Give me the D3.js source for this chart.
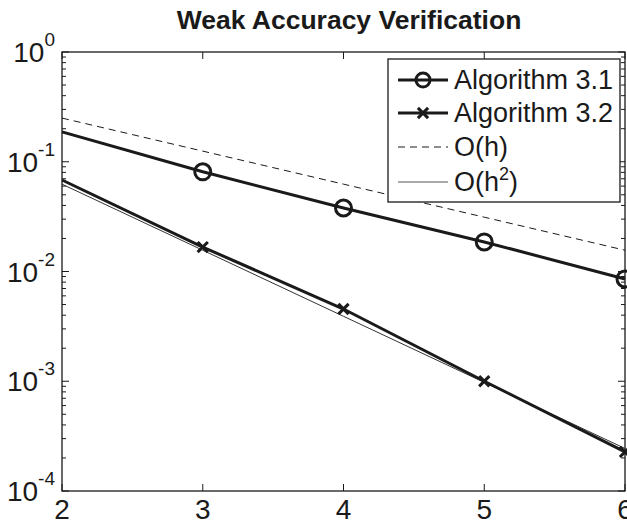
<!DOCTYPE html>
<html>
<head>
<meta charset="utf-8">
<script src="https://cdn.jsdelivr.net/npm/d3@7"></script>
<style>
  body { margin: 0; background: #fff; }
  text { font-family: "Liberation Sans", Arial, sans-serif; fill: #1a1a1a; }
</style>
</head>
<body>
<div id="chart"></div>
<script>
// Data
const xValues = [2, 3, 4, 5, 6];
const alg31 = [0.187, 0.081, 0.0379, 0.0186, 0.00855];
const alg32 = [0.0682, 0.0167, 0.00455, 0.00100, 0.000227];
const orderH = [0.25, 0.125, 0.0625, 0.03125, 0.015625];
const orderH2 = [0.0625, 0.015625, 0.00390625, 0.0009765625, 0.000244140625];
const markerX = [3, 4, 5, 6]; // no marker drawn at the left edge in the reference
const xTicks = [2, 3, 4, 5, 6];
const yExponents = [0, -1, -2, -3, -4];
const legendLabels = ["Algorithm 3.1", "Algorithm 3.2", "O(h)", "O(h2)"];

const W = 627, H = 525;
const margin = { top: 52, right: 2, bottom: 34, left: 62 };
const width = W - margin.left - margin.right;
const height = H - margin.top - margin.bottom;
const ink = "#1a1a1a";

const svg = d3.select("#chart")
    .append("svg")
    .attr("width", W)
    .attr("height", H);

const g = svg.append("g")
    .attr("transform", `translate(${margin.left},${margin.top})`);

const x = d3.scaleLinear().domain([2, 6]).range([0, width]);
const y = d3.scaleLog().domain([1e-4, 1]).range([height, 0]);

// Title
svg.append("text")
    .attr("x", 349)
    .attr("y", 29)
    .attr("text-anchor", "middle")
    .attr("font-size", 26.5)
    .attr("font-weight", "bold")
    .text("Weak Accuracy Verification");

// Minor/major y ticks (inward, both sides)
const minorVals = [];
for (let e = -4; e < 0; e++) {
    for (let m = 2; m <= 9; m++) minorVals.push(m * Math.pow(10, e));
}
const tickG = g.append("g").attr("stroke", ink).attr("stroke-width", 1);
minorVals.forEach(v => {
    tickG.append("line").attr("x1", 0).attr("x2", 4).attr("y1", y(v)).attr("y2", y(v));
    tickG.append("line").attr("x1", width).attr("x2", width - 4).attr("y1", y(v)).attr("y2", y(v));
});
yExponents.forEach(e => {
    const v = Math.pow(10, e);
    tickG.append("line").attr("x1", 0).attr("x2", 7).attr("y1", y(v)).attr("y2", y(v));
    tickG.append("line").attr("x1", width).attr("x2", width - 7).attr("y1", y(v)).attr("y2", y(v));
});
xTicks.forEach(t => {
    tickG.append("line").attr("x1", x(t)).attr("x2", x(t)).attr("y1", height).attr("y2", height - 7);
    tickG.append("line").attr("x1", x(t)).attr("x2", x(t)).attr("y1", 0).attr("y2", 7);
});

// Y tick labels 10^e
yExponents.forEach(e => {
    const t = g.append("text")
        .attr("x", -7)
        .attr("y", y(Math.pow(10, e)) + 10)
        .attr("text-anchor", "end")
        .attr("font-size", 28);
    t.append("tspan").text("10");
    t.append("tspan").attr("font-size", 19).attr("dy", -16).text(String(e));
});

// X tick labels
xTicks.forEach(t => {
    g.append("text")
        .attr("x", x(t))
        .attr("y", height + 28)
        .attr("text-anchor", "middle")
        .attr("font-size", 28)
        .text(t);
});

// Lines
const line = d3.line()
    .x((d, i) => x(xValues[i]))
    .y(d => y(d));

g.append("path").datum(orderH)
    .attr("d", line).attr("fill", "none")
    .attr("stroke", ink).attr("stroke-width", 1).attr("stroke-dasharray", "7,5");
g.append("path").datum(orderH2)
    .attr("d", line).attr("fill", "none")
    .attr("stroke", "#333").attr("stroke-width", 1);
g.append("path").datum(alg31)
    .attr("d", line).attr("fill", "none")
    .attr("stroke", ink).attr("stroke-width", 3);
g.append("path").datum(alg32)
    .attr("d", line).attr("fill", "none")
    .attr("stroke", ink).attr("stroke-width", 3);

// Markers
const pts31 = xValues.map((v, i) => [v, alg31[i]]).filter(p => markerX.includes(p[0]));
const pts32 = xValues.map((v, i) => [v, alg32[i]]).filter(p => markerX.includes(p[0]));

g.selectAll(".circ").data(pts31).enter().append("circle")
    .attr("cx", d => x(d[0]))
    .attr("cy", d => y(d[1]))
    .attr("r", 8)
    .attr("fill", "none")
    .attr("stroke", ink)
    .attr("stroke-width", 3);

const cross = d3.symbol().type(d3.symbolX).size(70);
g.selectAll(".cross").data(pts32).enter().append("path")
    .attr("transform", d => `translate(${x(d[0])},${y(d[1])})`)
    .attr("d", cross)
    .attr("fill", "none")
    .attr("stroke", ink)
    .attr("stroke-width", 3);

// Axes box
g.append("rect")
    .attr("x", 0).attr("y", 0)
    .attr("width", width).attr("height", height)
    .attr("fill", "none").attr("stroke", ink).attr("stroke-width", 1.3);

// Legend
const lg = svg.append("g").attr("transform", "translate(388,59)");
lg.append("rect")
    .attr("width", 232).attr("height", 143)
    .attr("fill", "#fff").attr("stroke", ink).attr("stroke-width", 1.3);

const rowY = [21, 54, 88, 123];
const styles = [
    { w: 3, dash: null, marker: "circle", color: ink },
    { w: 3, dash: null, marker: "cross", color: ink },
    { w: 1, dash: "7,5", marker: null, color: ink },
    { w: 1, dash: null, marker: null, color: "#555" }
];
legendLabels.forEach((lab, i) => {
    const s = styles[i];
    lg.append("line")
        .attr("x1", 10).attr("x2", 60)
        .attr("y1", rowY[i]).attr("y2", rowY[i])
        .attr("stroke", s.color).attr("stroke-width", s.w)
        .attr("stroke-dasharray", s.dash);
    if (s.marker === "circle") {
        lg.append("circle").attr("cx", 35).attr("cy", rowY[i]).attr("r", 7)
            .attr("fill", "none").attr("stroke", ink).attr("stroke-width", 3);
    } else if (s.marker === "cross") {
        lg.append("path").attr("transform", `translate(35,${rowY[i]})`)
            .attr("d", cross).attr("fill", "none").attr("stroke", ink).attr("stroke-width", 3);
    }
    const t = lg.append("text")
        .attr("x", 66).attr("y", rowY[i] + 9)
        .attr("font-size", 27);
    if (i === 3) {
        t.append("tspan").text("O(h");
        t.append("tspan").attr("font-size", 18).attr("dy", -11).text("2");
        t.append("tspan").attr("dy", 11).text(")");
    } else {
        t.text(lab);
    }
});
</script>
</body>
</html>
